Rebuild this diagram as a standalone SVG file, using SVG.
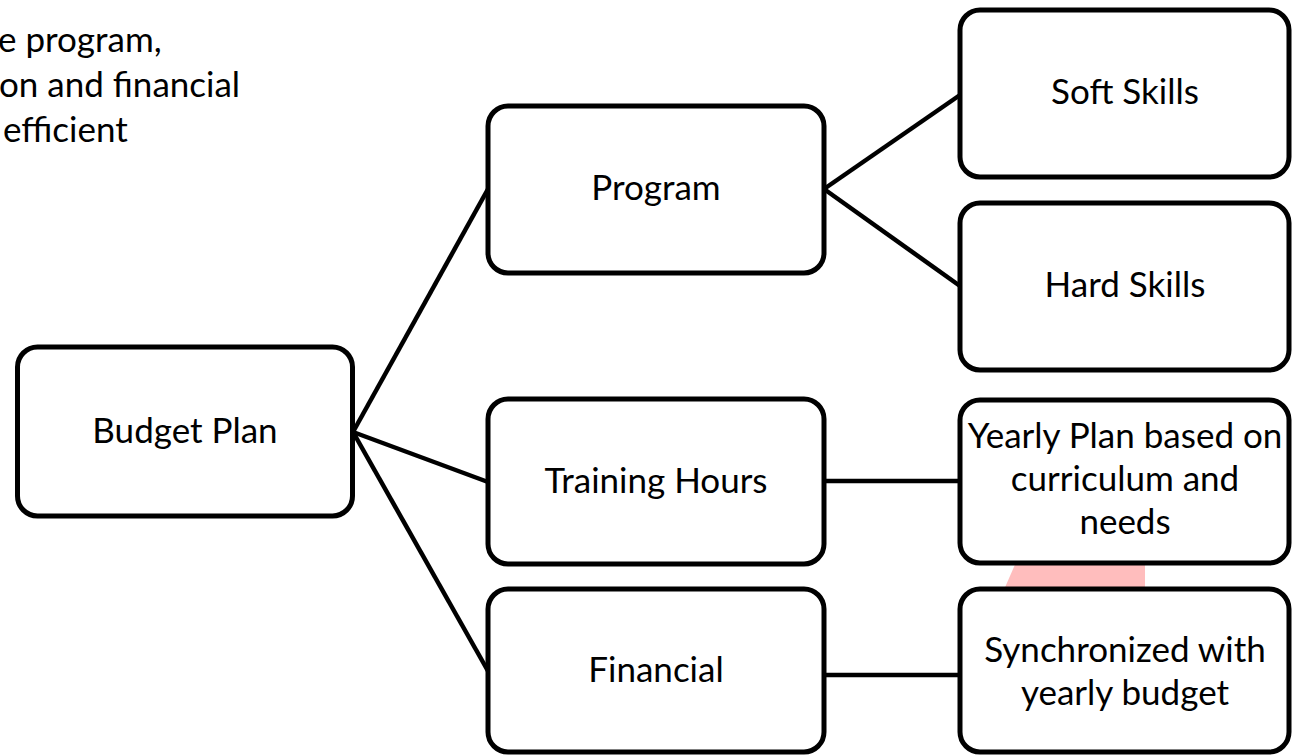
<svg xmlns="http://www.w3.org/2000/svg" width="1293" height="756" viewBox="0 0 1293 756">
<style>
.box{fill:#fff;stroke:#000;stroke-width:5}
.lbl{font-family:Lato,"Open Sans",sans-serif;font-size:35px;fill:#000;text-anchor:middle}
.note{font-family:Lato,"Open Sans",sans-serif;font-size:35px;fill:#000}
.con{stroke:#000;stroke-width:4.5;fill:none}
</style>
<rect width="1293" height="756" fill="#fff"/>
<polygon points="1003,592 1017,560 1145,560 1145,592" fill="#ffbdbd"/>
<g id="note">
<text class="note" x="-2" y="52">e program,</text>
<text class="note" x="-1" y="97">on and financial</text>
<text class="note" x="3" y="142">efficient</text>
</g>
<g id="connectors">
<line class="con" x1="353" y1="432" x2="488" y2="189"/>
<line class="con" x1="353" y1="432" x2="488" y2="482"/>
<line class="con" x1="353" y1="432" x2="488" y2="671"/>
<line class="con" x1="824" y1="189" x2="960" y2="95"/>
<line class="con" x1="824" y1="189" x2="960" y2="286"/>
<line class="con" x1="824" y1="481" x2="960" y2="481"/>
<line class="con" x1="824" y1="675" x2="960" y2="675"/>
</g>
<g id="budget-plan">
<rect class="box" x="17.5" y="347" width="335" height="169" rx="20"/>
<text class="lbl" x="185" y="443">Budget Plan</text>
</g>
<g id="program">
<rect class="box" x="488" y="106" width="336" height="167" rx="20"/>
<text class="lbl" x="656" y="200">Program</text>
</g>
<g id="training-hours">
<rect class="box" x="488" y="399" width="336" height="165" rx="20"/>
<text class="lbl" x="656" y="493">Training Hours</text>
</g>
<g id="financial">
<rect class="box" x="488" y="589" width="336" height="163" rx="20"/>
<text class="lbl" x="656" y="682">Financial</text>
</g>
<g id="soft-skills">
<rect class="box" x="960" y="10" width="329" height="167" rx="20"/>
<text class="lbl" x="1125" y="104">Soft Skills</text>
</g>
<g id="hard-skills">
<rect class="box" x="960" y="203" width="329" height="167" rx="20"/>
<text class="lbl" x="1125" y="297">Hard Skills</text>
</g>
<g id="yearly-plan">
<rect class="box" x="960" y="400" width="329" height="163" rx="20"/>
<text class="lbl" x="1125" y="448">Yearly Plan based on</text>
<text class="lbl" x="1125" y="491">curriculum and</text>
<text class="lbl" x="1125" y="534">needs</text>
</g>
<g id="synchronized">
<rect class="box" x="960" y="589" width="329" height="163" rx="20"/>
<text class="lbl" x="1125" y="662">Synchronized with</text>
<text class="lbl" x="1125" y="705">yearly budget</text>
</g>
</svg>
